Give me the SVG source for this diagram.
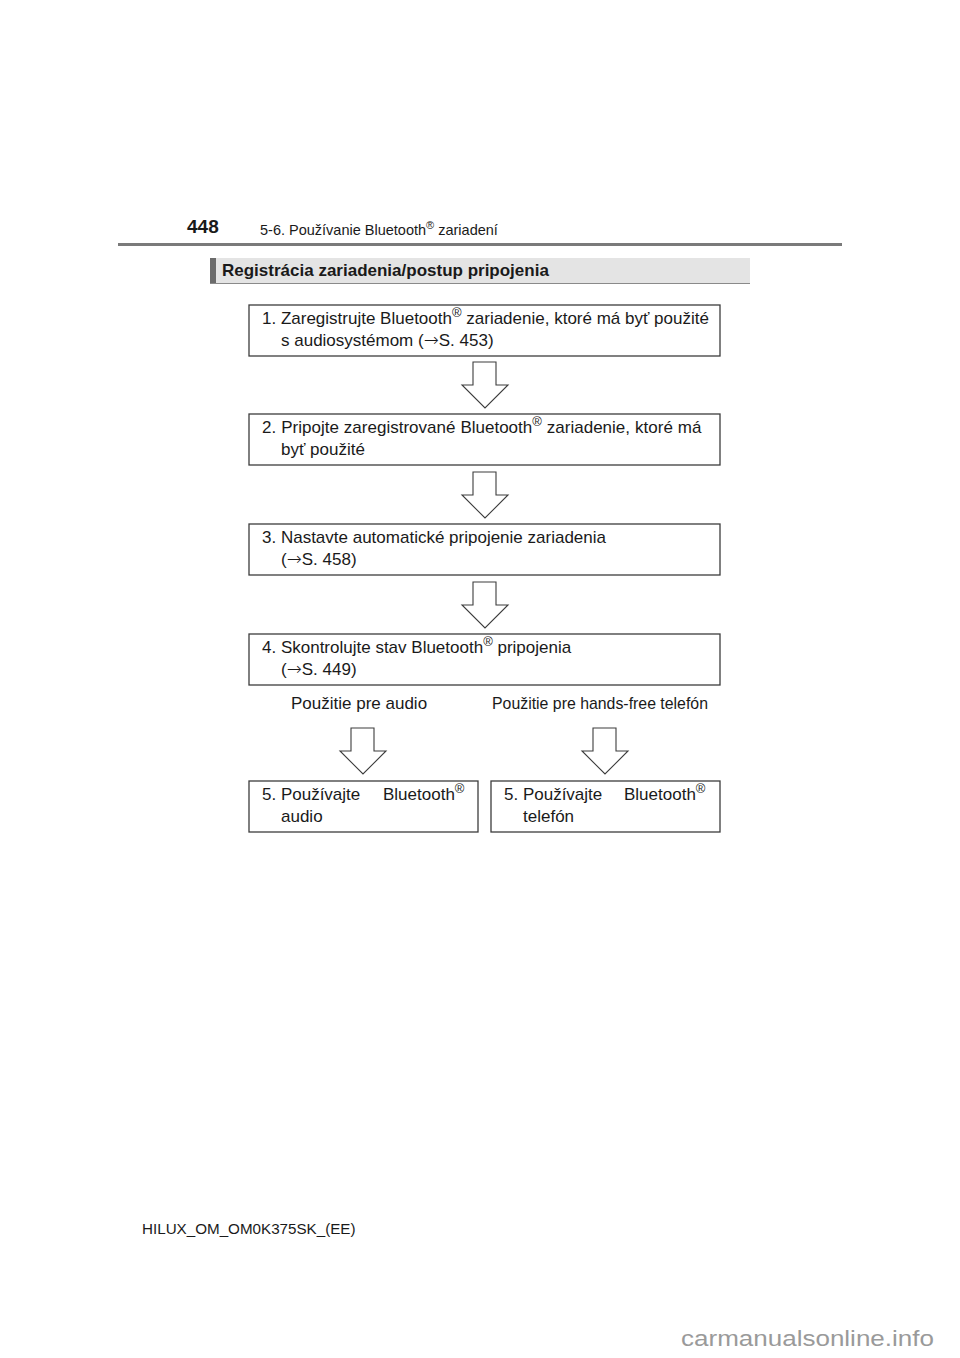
<svg xmlns="http://www.w3.org/2000/svg" xmlns:xlink="http://www.w3.org/1999/xlink" width="960" height="1358" viewBox="0 0 960 1358">
<style>
text{font-family:"Liberation Sans",Arial,"DejaVu Sans",sans-serif;fill:#1a1a1a}
.t{font-size:17px}
.sup{font-size:13px}
.ar{font-family:"DejaVu Sans",sans-serif;font-size:18px;font-weight:200}
.box{fill:#fff;stroke:#3c3c3c;stroke-width:1.3}
.arr{fill:#fff;stroke:#3c3c3c;stroke-width:1.1;stroke-linejoin:miter}
</style>
<defs>
<path id="arrow" class="arr" d="M-12,0 H11 V23 H23 L0,46 L-23,23 H-12 Z"/>
</defs>
<rect width="960" height="1358" fill="#fff"/>

<g id="page-header">
<text x="187" y="233" font-size="19" font-weight="bold">448</text>
<text x="260" y="235" font-size="14.5">5-6. Používanie Bluetooth<tspan font-size="11" dy="-6">®</tspan><tspan dy="6"> zariadení</tspan></text>
<line x1="118" y1="244.5" x2="842" y2="244.5" stroke="#7a7a7a" stroke-width="3"/>
</g>

<g id="section-title">
<rect x="210" y="258" width="540" height="26" fill="#e4e4e4"/>
<rect x="210" y="258" width="6" height="26" fill="#6b6b6b"/>
<line x1="210" y1="283.5" x2="750" y2="283.5" stroke="#8a8a8a" stroke-width="1"/>
<text x="222" y="276" font-size="17" font-weight="bold">Registrácia zariadenia/postup pripojenia</text>
</g>

<g id="connectors">
<use xlink:href="#arrow" x="485" y="362"/>
<use xlink:href="#arrow" x="485" y="472"/>
<use xlink:href="#arrow" x="485" y="582"/>
<use xlink:href="#arrow" x="363" y="728"/>
<use xlink:href="#arrow" x="605" y="728"/>
</g>

<g id="step1">
<rect class="box" x="249" y="305" width="471" height="51"/>
<text class="t" x="262" y="324">1. Zaregistrujte Bluetooth<tspan class="sup" dy="-7">®</tspan><tspan dy="7"> zariadenie, ktoré má byť použité</tspan></text>
<text class="t" x="281" y="346">s audiosystémom (<tspan class="ar">→</tspan>S. 453)</text>
</g>

<g id="step2">
<rect class="box" x="249" y="414" width="471" height="51"/>
<text class="t" x="262" y="433" word-spacing="0.3">2. Pripojte zaregistrované Bluetooth<tspan class="sup" dy="-7">®</tspan><tspan dy="7"> zariadenie, ktoré má</tspan></text>
<text class="t" x="281" y="455">byť použité</text>
</g>

<g id="step3">
<rect class="box" x="249" y="524" width="471" height="51"/>
<text class="t" x="262" y="543">3. Nastavte automatické pripojenie zariadenia</text>
<text class="t" x="281" y="565">(<tspan class="ar">→</tspan>S. 458)</text>
</g>

<g id="step4">
<rect class="box" x="249" y="634" width="471" height="51"/>
<text class="t" x="262" y="653">4. Skontrolujte stav Bluetooth<tspan class="sup" dy="-7">®</tspan><tspan dy="7"> pripojenia</tspan></text>
<text class="t" x="281" y="675">(<tspan class="ar">→</tspan>S. 449)</text>
</g>

<g id="branch-labels">
<text class="t" x="291" y="709">Použitie pre audio</text>
<text class="t" x="492" y="709" textLength="216" lengthAdjust="spacingAndGlyphs">Použitie pre hands-free telefón</text>
</g>

<g id="step5-audio">
<rect class="box" x="249" y="781" width="229" height="51"/>
<text class="t" x="262" y="800">5. Používajte</text>
<text class="t" x="383" y="800">Bluetooth<tspan class="sup" dy="-7">®</tspan></text>
<text class="t" x="281" y="822">audio</text>
</g>

<g id="step5-phone">
<rect class="box" x="491" y="781" width="229" height="51"/>
<text class="t" x="504" y="800">5. Používajte</text>
<text class="t" x="624" y="800">Bluetooth<tspan class="sup" dy="-7">®</tspan></text>
<text class="t" x="523" y="822">telefón</text>
</g>

<g id="footer">
<text x="142" y="1234" font-size="15.2">HILUX_OM_OM0K375SK_(EE)</text>
<text x="681" y="1346" font-size="22" style="fill:#9a9a9a" textLength="253" lengthAdjust="spacingAndGlyphs">carmanualsonline.info</text>
</g>
</svg>
